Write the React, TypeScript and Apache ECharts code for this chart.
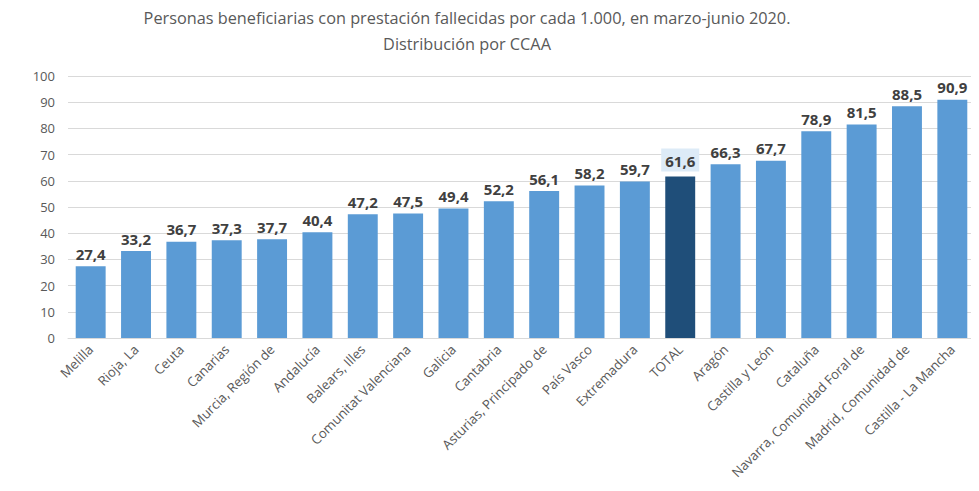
import React, { useEffect, useRef } from "react";
import * as echarts from "echarts";

const categories = [
  "Melilla", "Rioja, La", "Ceuta", "Canarias", "Murcia, Región de", "Andalucía",
  "Balears, Illes", "Comunitat Valenciana", "Galicia", "Cantabria",
  "Asturias, Principado de", "País Vasco", "Extremadura", "TOTAL", "Aragón",
  "Castilla y León", "Cataluña", "Navarra, Comunidad Foral de",
  "Madrid, Comunidad de", "Castilla - La Mancha",
];
const values = [
  27.4, 33.2, 36.7, 37.3, 37.7, 40.4, 47.2, 47.5, 49.4, 52.2,
  56.1, 58.2, 59.7, 61.6, 66.3, 67.7, 78.9, 81.5, 88.5, 90.9,
];
const titleLines = [
  "Personas beneficiarias con prestación fallecidas por cada 1.000, en marzo-junio 2020.",
  "Distribución por CCAA",
];
const highlightCategory = "TOTAL";

export default function App() {
  const ref = useRef<HTMLDivElement>(null);
  useEffect(() => {
    if (!ref.current) return;
    const chart = echarts.init(ref.current, undefined, { renderer: "svg" });
    const fmt = (v: number) => v.toFixed(1).replace(".", ",");
    const titleFont = "16.3px 'Open Sans', sans-serif";
    chart.setOption({
      animation: false,
      textStyle: { fontFamily: "'Open Sans', sans-serif" },
      graphic: [
        {
          type: "text",
          x: 459,
          y: 10,
          style: {
            text: titleLines[0],
            textAlign: "center",
            textVerticalAlign: "middle",
            fill: "#595959",
            font: titleFont,
          },
        },
        {
          type: "text",
          x: 459,
          y: 36,
          style: {
            text: titleLines[1],
            textAlign: "center",
            textVerticalAlign: "middle",
            fill: "#595959",
            font: titleFont,
          },
        },
      ],
      grid: { left: 60, right: 12, top: 68, bottom: 161, containLabel: false },
      xAxis: {
        type: "category",
        data: categories,
        axisTick: { show: false },
        axisLine: { lineStyle: { color: "#D9D9D9", width: 1 } },
        axisLabel: {
          rotate: 45,
          interval: 0,
          color: "#595959",
          fontSize: 13.2,
          margin: 9,
          fontFamily: "'Open Sans', sans-serif",
        },
      },
      yAxis: {
        type: "value",
        min: 0,
        max: 100,
        interval: 10,
        axisLine: { show: false },
        axisTick: { show: false },
        splitLine: { lineStyle: { color: "#D9D9D9", width: 1 } },
        axisLabel: {
          color: "#595959",
          fontSize: 13,
          margin: 13,
          fontFamily: "'Open Sans', sans-serif",
        },
      },
      series: [
        {
          type: "bar",
          barWidth: "66%",
          data: values.map((v, i) => {
            const isHi = categories[i] === highlightCategory;
            return {
              value: v,
              itemStyle: { color: isHi ? "#1F4E79" : "#5B9BD5" },
              label: isHi
                ? { backgroundColor: "#DDEBF7", padding: [5, 4, 3, 4] }
                : undefined,
            };
          }),
          label: {
            show: true,
            position: "top",
            distance: 5,
            color: "#404040",
            fontSize: 15,
            fontWeight: "bold",
            fontFamily: "'Open Sans', sans-serif",
            formatter: (p: any) => fmt(p.value),
          },
        },
      ],
    });
    return () => chart.dispose();
  }, []);
  return <div ref={ref} style={{ width: 979, height: 491 }} />;
}
